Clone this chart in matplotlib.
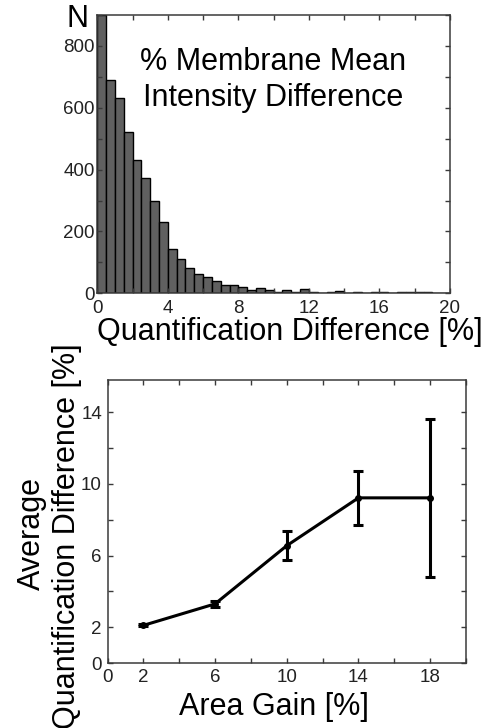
import numpy as np
import matplotlib
matplotlib.use("Agg")
import matplotlib.pyplot as plt
from matplotlib.ticker import MultipleLocator, FixedLocator, FixedFormatter

plt.rcParams['font.family'] = ['Liberation Sans', 'DejaVu Sans']

# ---- data ----
bin_width = 0.5
hist_counts = [900, 690, 630, 523, 432, 372, 300, 230, 144, 112,
               83, 64, 54, 41, 27, 27, 21, 11, 18, 11,
               4, 11, 4, 14, 5, 2, 3, 9, 2, 3,
               2, 3, 4, 2, 4, 3, 3, 5, 2, 1]
area_gain = [2, 6, 10, 14, 18]
avg_diff = [2.1, 3.3, 6.55, 9.22, 9.22]
avg_err = [0.06, 0.15, 0.8, 1.5, 4.4]

hist_xticklabels = ['0', '4', '8', '12', '16', '20']
line_xticklabels = ['0', '2', '', '6', '', '10', '', '14', '', '18', '']
line_yticklabels = ['0', '2', '', '6', '', '10', '', '14', '']

W, H = 503, 728
fig = plt.figure(figsize=(W / 100, H / 100), dpi=100)

spine_c = '#3a3a3a'
tick_fs = 13.5
lab_fs = 22

def style(ax, pad):
    for s in ax.spines.values():
        s.set_color(spine_c)
        s.set_linewidth(1.1)
    ax.tick_params(which='both', direction='in', top=True, right=True,
                   length=3.5, width=1.0, color=spine_c, labelsize=tick_fs,
                   labelcolor='#222222', pad=pad)

# ---- top histogram ----
ax1 = fig.add_axes([97.3 / W, 1 - 293.3 / H, (450 - 97.3) / W, (293.3 - 15) / H])
edges = np.arange(len(hist_counts)) * bin_width
ax1.bar(edges, hist_counts, width=bin_width, align='edge',
        color='#606060', edgecolor='black', linewidth=1.0)
ax1.set_xlim(0, 20)
ax1.set_ylim(0, 900)
ax1.xaxis.set_major_locator(FixedLocator([0, 4, 8, 12, 16, 20]))
ax1.xaxis.set_major_formatter(FixedFormatter(hist_xticklabels))
ax1.xaxis.set_minor_locator(MultipleLocator(2))
ax1.yaxis.set_major_locator(MultipleLocator(200))
ax1.yaxis.set_minor_locator(MultipleLocator(100))
style(ax1, 5)
ax1.tick_params(axis='y', pad=2)

fig.text(77.5 / W, 1 - 27 / H, 'N', fontsize=lab_fs, ha='center', va='baseline')
fig.text(273.5 / W, 1 - 70 / H, '% Membrane Mean', fontsize=lab_fs,
         ha='center', va='baseline')
fig.text(273.5 / W, 1 - 106 / H, 'Intensity Difference', fontsize=lab_fs,
         ha='center', va='baseline')
fig.text(289.5 / W, 1 - 340 / H, 'Quantification Difference [%]',
         fontsize=lab_fs, ha='center', va='baseline')

# ---- bottom line/errorbar ----
ax2 = fig.add_axes([107.5 / W, 1 - 663 / H, (466 - 107.5) / W, (663 - 380) / H])
ax2.errorbar(area_gain, avg_diff, yerr=avg_err, color='black', lw=2.2,
             elinewidth=2.2, capsize=3.8, capthick=2.2, marker='o',
             markersize=4)
ax2.set_xlim(0, 20)
ax2.set_ylim(0, 15.8)
ax2.xaxis.set_major_locator(FixedLocator(list(range(0, 21, 2))))
ax2.xaxis.set_major_formatter(FixedFormatter(line_xticklabels))
ax2.yaxis.set_major_locator(FixedLocator(list(range(0, 17, 2))))
ax2.yaxis.set_major_formatter(FixedFormatter(line_yticklabels))
style(ax2, 4)

fig.text(32 / W, 1 - 534 / H, 'Average', fontsize=lab_fs, rotation=90,
         ha='center', va='center')
fig.text(67 / W, 1 - 536 / H, 'Quantification Difference [%]', fontsize=lab_fs,
         rotation=90, ha='center', va='center')
fig.text(274 / W, 1 - 715 / H, 'Area Gain [%]', fontsize=lab_fs,
         ha='center', va='baseline')

fig.savefig('out.png', dpi=100)
